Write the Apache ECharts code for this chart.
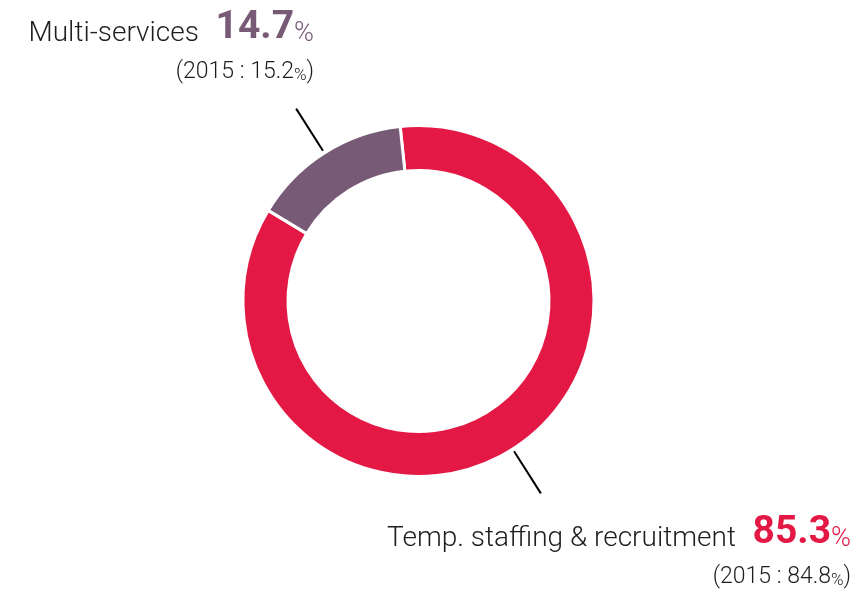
<!DOCTYPE html>
<html>
<head>
<meta charset="utf-8">
<script src="https://cdn.jsdelivr.net/npm/echarts@6/dist/echarts.min.js"></script>
<style>
  html, body { margin: 0; padding: 0; background: #fff; }
  #chart { width: 861px; height: 589px; }
</style>
</head>
<body>
<div id="chart"></div>
<script>
// activity split
const names = ["Temp. staffing & recruitment", "Multi-services"];
const values = [85.3, 14.7];
const prevValues = [84.8, 15.2];
const prevYear = "2015";
const colors = ["#e31845", "#765a76"];

const fontFamily = "Roboto, 'Liberation Sans', sans-serif";
const textColor = "#1d1d1b";

const chart = echarts.init(document.getElementById("chart"));

function fmt(v) {
  return v.toFixed(1);
}

function labelText(i) {
  return (
    "{name|" + names[i] + "}  {val" + i + "|" + fmt(values[i]) + "}{pct" + i + "|%}\n" +
    "{sub|(" + prevYear + " : " + fmt(prevValues[i]) + "}{subp|%}{sub|)}"
  );
}

// graphic text uses zrender style names (fill, not color)
const valStyle = { fontSize: 39, fontWeight: "bold", fontFamily, lineHeight: 40, verticalAlign: "bottom", padding: [0, 0, 0, 10] };
const pctStyle = { fontSize: 27, fontWeight: 300, fontFamily, lineHeight: 40, verticalAlign: "bottom" };
const rich = {
  name: { fontSize: 28, fontWeight: 300, fontFamily, fill: textColor, lineHeight: 40, verticalAlign: "bottom" },
  val0: Object.assign({ fill: colors[0] }, valStyle),
  val1: Object.assign({ fill: colors[1] }, valStyle),
  pct0: Object.assign({ fill: colors[0] }, pctStyle),
  pct1: Object.assign({ fill: colors[1] }, pctStyle),
  sub: { fontSize: 23, fontWeight: 300, fontFamily, fill: textColor, lineHeight: 36, verticalAlign: "bottom" },
  subp: { fontSize: 17, fontWeight: 300, fontFamily, fill: textColor, lineHeight: 36, verticalAlign: "bottom" }
};

const pieData = names.map((n, i) => ({
  name: n,
  value: values[i],
  itemStyle: { color: colors[i] }
}));

const option = {
  animation: false,
  graphic: [
    {
      type: "text",
      x: 314,
      y: 8,
      style: { text: labelText(1), rich, align: "right", verticalAlign: "top" }
    },
    {
      type: "text",
      x: 851,
      y: 513,
      style: { text: labelText(0), rich, align: "right", verticalAlign: "top" }
    }
  ],
  series: [
    {
      type: "pie",
      center: [418.5, 301],
      radius: [130.5, 175.5],
      startAngle: 96,
      clockwise: true,
      silent: true,
      itemStyle: { borderColor: "#fff", borderWidth: 3 },
      label: { show: false },
      labelLine: { show: false },
      emphasis: { disabled: true },
      data: pieData
    },
    {
      // only carries the leader lines
      type: "pie",
      center: [418.5, 301],
      radius: [0, 178],
      startAngle: 96,
      clockwise: true,
      silent: true,
      z: 1,
      itemStyle: { color: "rgba(0,0,0,0)", borderWidth: 0 },
      label: { show: true, position: "outside", formatter: " ", overflow: "none" },
      labelLine: {
        show: true,
        length: 50,
        length2: 0,
        smooth: false,
        minTurnAngle: 0,
        maxSurfaceAngle: 0,
        lineStyle: { color: "#000", width: 2 }
      },
      emphasis: { disabled: true },
      data: names.map((n, i) => ({ name: n, value: values[i] }))
    }
  ]
};

chart.setOption(option);
</script>
</body>
</html>
